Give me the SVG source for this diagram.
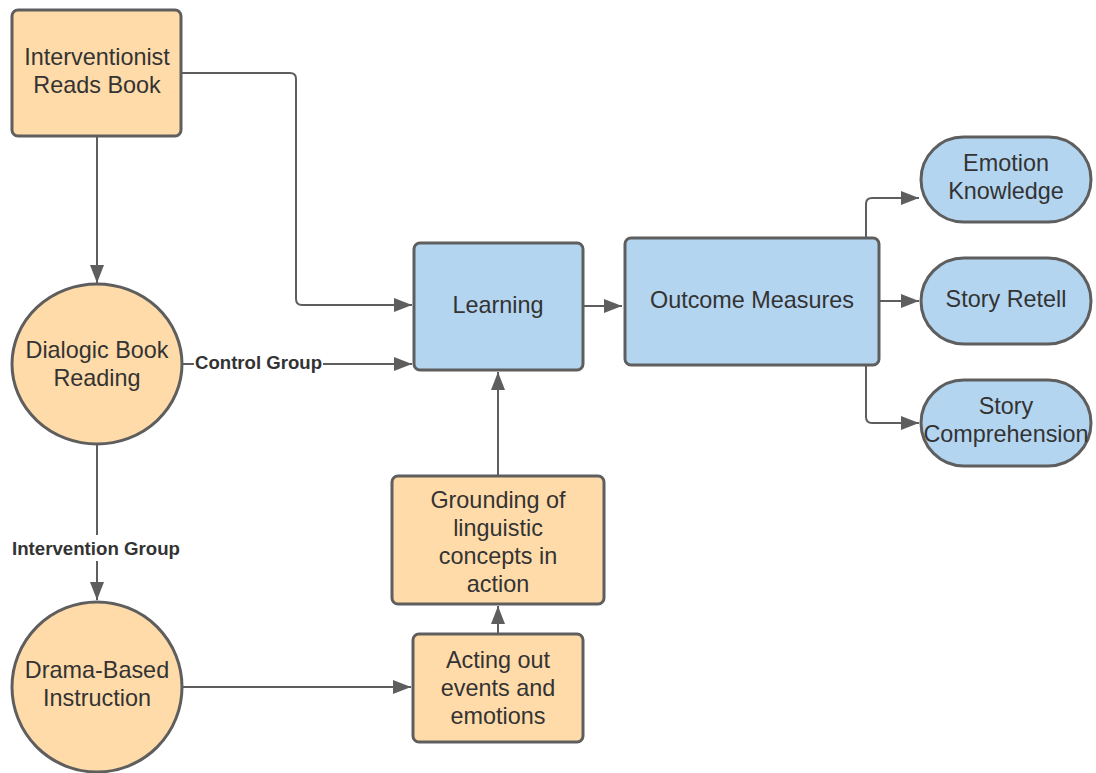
<svg xmlns="http://www.w3.org/2000/svg" width="1096" height="773" viewBox="0 0 1096 773">
<style>
.o{fill:#ffdba9;stroke:#5e5e5e;stroke-width:3}
.b{fill:#b3d5f0;stroke:#5e5e5e;stroke-width:3}
.t{font-family:"Liberation Sans",Arial,sans-serif;font-size:23.4px;fill:#333;text-anchor:middle}
.l{font-family:"Liberation Sans",Arial,sans-serif;font-size:18px;font-weight:bold;fill:#333}
.c{fill:none;stroke:#5e5e5e;stroke-width:2}
</style>
<defs>
<marker id="a" viewBox="0 0 18 14" refX="18" refY="7" markerWidth="18" markerHeight="14" markerUnits="userSpaceOnUse" orient="auto">
<path d="M0,0 L18,7 L0,14 z" fill="#5e5e5e"/>
</marker>
</defs>
<rect width="1096" height="773" fill="#fff"/>
<g id="connectors">
<path class="c" d="M181,73 H290 Q296,73 296,79 V299 Q296,305 302,305 H412" marker-end="url(#a)"/>
<path class="c" d="M97,137 V283" marker-end="url(#a)"/>
<path class="c" d="M183,364 H194 M323,364 H412" marker-end="url(#a)"/>
<path class="c" d="M97,445 V535 M97,561 V600" marker-end="url(#a)"/>
<path class="c" d="M182,687 H411" marker-end="url(#a)"/>
<path class="c" d="M498,634 V606" marker-end="url(#a)"/>
<path class="c" d="M498,476 V372" marker-end="url(#a)"/>
<path class="c" d="M583,306 H622" marker-end="url(#a)"/>
<path class="c" d="M866,237 V204 Q866,198 872,198 H919" marker-end="url(#a)"/>
<path class="c" d="M880,301 H919" marker-end="url(#a)"/>
<path class="c" d="M866,366 V417 Q866,423 872,423 H919" marker-end="url(#a)"/>
<text class="l" x="195" y="369" textLength="127" lengthAdjust="spacingAndGlyphs">Control Group</text>
<text class="l" x="12" y="555" textLength="168" lengthAdjust="spacingAndGlyphs">Intervention Group</text>
</g>
<g id="interventionist">
<rect class="o" x="12" y="10" width="169" height="126" rx="6"/>
<text class="t" x="97" y="65">Interventionist</text>
<text class="t" x="97" y="93">Reads Book</text>
</g>
<g id="dialogic">
<ellipse class="o" cx="97" cy="364" rx="85" ry="80"/>
<text class="t" x="97" y="358">Dialogic Book</text>
<text class="t" x="97" y="386">Reading</text>
</g>
<g id="drama">
<circle class="o" cx="97" cy="687" r="85"/>
<text class="t" x="97" y="678">Drama-Based</text>
<text class="t" x="97" y="706">Instruction</text>
</g>
<g id="learning">
<rect class="b" x="414" y="243" width="169" height="127" rx="6"/>
<text class="t" x="498" y="313">Learning</text>
</g>
<g id="outcome">
<rect class="b" x="625" y="238" width="254" height="127" rx="6"/>
<text class="t" x="752" y="308">Outcome Measures</text>
</g>
<g id="emotion">
<rect class="b" x="921" y="137" width="170" height="85" rx="42.5"/>
<text class="t" x="1006" y="171">Emotion</text>
<text class="t" x="1006" y="199">Knowledge</text>
</g>
<g id="retell">
<rect class="b" x="921" y="258" width="170" height="86" rx="43"/>
<text class="t" x="1006" y="307">Story Retell</text>
</g>
<g id="comprehension">
<rect class="b" x="921" y="380" width="170" height="86" rx="43"/>
<text class="t" x="1006" y="414">Story</text>
<text class="t" x="1006" y="442">Comprehension</text>
</g>
<g id="grounding">
<rect class="o" x="392" y="476" width="212" height="128" rx="6"/>
<text class="t" x="498" y="508">Grounding of</text>
<text class="t" x="498" y="536">linguistic</text>
<text class="t" x="498" y="564">concepts in</text>
<text class="t" x="498" y="592">action</text>
</g>
<g id="acting">
<rect class="o" x="413" y="634" width="170" height="108" rx="6"/>
<text class="t" x="498" y="668">Acting out</text>
<text class="t" x="498" y="696">events and</text>
<text class="t" x="498" y="724">emotions</text>
</g>
</svg>
